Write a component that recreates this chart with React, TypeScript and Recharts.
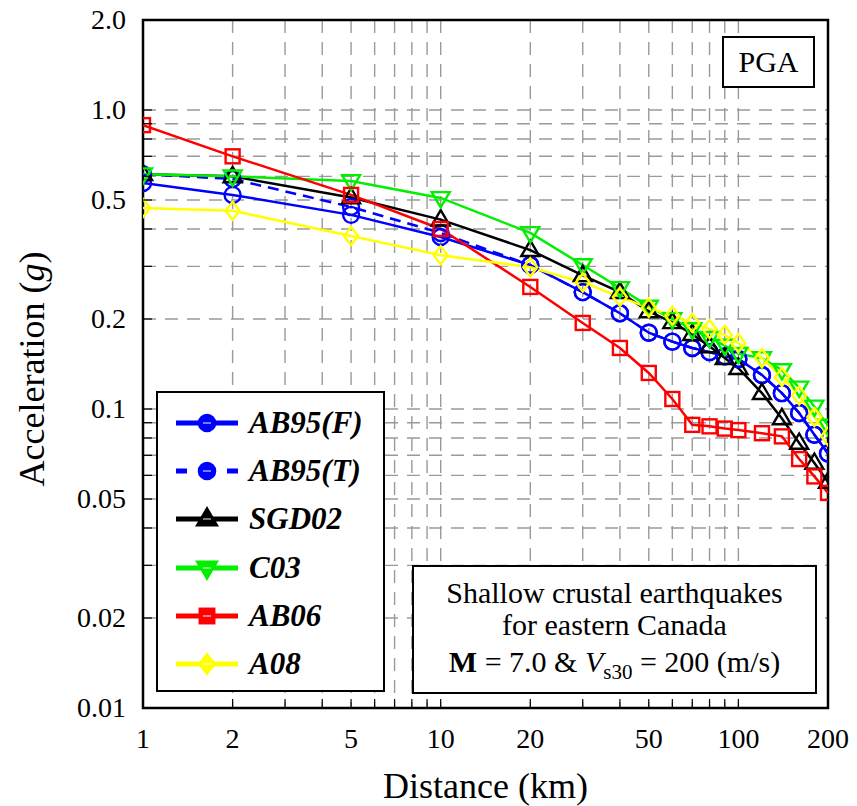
import React from 'react';
import { LineChart, Line, XAxis, YAxis, CartesianGrid, ReferenceArea } from 'recharts';

// ---------- data ----------
const distances = [1, 2, 5, 10, 20, 30, 40, 50, 60, 70, 80, 90, 100, 120, 140, 160, 180, 200];
const ab95F = [0.57, 0.52, 0.446, 0.376, 0.303, 0.246, 0.209, 0.18, 0.168, 0.16, 0.155, 0.15, 0.147, 0.13, 0.113, 0.097, 0.082, 0.071];
const ab95T = [0.61, 0.588, 0.474, 0.388, 0.303, 0.246, 0.209, 0.18, 0.168, 0.16, 0.155, 0.15, 0.147, 0.13, 0.113, 0.097, 0.082, 0.071];
const sgd02 = [0.61, 0.6, 0.51, 0.43, 0.34, 0.28, 0.246, 0.212, 0.195, 0.178, 0.162, 0.148, 0.137, 0.113, 0.093, 0.077, 0.066, 0.057];
const c03 = [0.61, 0.6, 0.579, 0.508, 0.388, 0.303, 0.254, 0.22, 0.2, 0.185, 0.173, 0.163, 0.153, 0.148, 0.135, 0.118, 0.102, 0.088];
const ab06 = [0.89, 0.7, 0.52, 0.4, 0.256, 0.194, 0.16, 0.132, 0.108, 0.0885, 0.0875, 0.086, 0.085, 0.083, 0.081, 0.068, 0.0595, 0.0524];
const a08 = [0.47, 0.46, 0.379, 0.327, 0.298, 0.265, 0.237, 0.218, 0.205, 0.194, 0.185, 0.177, 0.166, 0.148, 0.128, 0.111, 0.094, 0.081];

const xTicks = [1, 2, 3, 4, 5, 6, 7, 8, 9, 10, 20, 30, 40, 50, 60, 70, 80, 90, 100, 200];
const xMajor = [1, 2, 5, 10, 20, 50, 100, 200];
const xMajorLabels = ['1', '2', '5', '10', '20', '50', '100', '200'];
const yTicks = [0.01, 0.02, 0.03, 0.04, 0.05, 0.06, 0.07, 0.08, 0.09, 0.1, 0.2, 0.3, 0.4, 0.5, 0.6, 0.7, 0.8, 0.9, 1, 2];
const yMajor = [0.01, 0.02, 0.05, 0.1, 0.2, 0.5, 1, 2];
const yMajorLabels = ['0.01', '0.02', '0.05', '0.1', '0.2', '0.5', '1.0', '2.0'];

const seriesNames = ['AB95(F)', 'AB95(T)', 'SGD02', 'C03', 'AB06', 'A08'];
const seriesKeys = ['ab95F', 'ab95T', 'sgd02', 'c03', 'ab06', 'a08'];
const seriesValues = [ab95F, ab95T, sgd02, c03, ab06, a08];
const seriesColors = ['#0000ff', '#0000ff', '#000000', '#00f000', '#ff0000', '#ffff00'];
const seriesShapes = ['circle', 'circle', 'triUp', 'triDown', 'square', 'diamond'];
const seriesDashed = [false, true, false, false, false, false];

const annotationLines = ['Shallow crustal earthquakes', 'for eastern Canada'];
const panelTitle = 'PGA';

const data = distances.map((d, i) => {
  const row: any = { d };
  seriesKeys.forEach((k, j) => {
    row[k] = seriesValues[j][i];
  });
  return row;
});

const FONT = "'Liberation Serif', 'Times New Roman', serif";

// ---------- markers ----------
function Marker({ shape, color, x, y, sw, fill, scale = 1 }: any) {
  const common = { stroke: color, strokeWidth: sw, fill: fill || 'none' };
  if (shape === 'circle') return <circle cx={x} cy={y} r={8 * scale} {...common} />;
  if (shape === 'square') {
    const s = 7 * scale;
    return <rect x={x - s} y={y - s} width={2 * s} height={2 * s} {...common} />;
  }
  if (shape === 'triUp') {
    const s = 9 * scale;
    return <polygon points={`${x},${y - s * 1.05} ${x - s},${y + s * 0.65} ${x + s},${y + s * 0.65}`} {...common} />;
  }
  if (shape === 'triDown') {
    const s = 9 * scale;
    return <polygon points={`${x},${y + s * 1.05} ${x - s},${y - s * 0.65} ${x + s},${y - s * 0.65}`} {...common} />;
  }
  const h = 9 * scale;
  const w = 7 * scale;
  return <polygon points={`${x},${y - h} ${x + w},${y} ${x},${y + h} ${x - w},${y}`} {...common} />;
}

const makeDot = (shape: string, color: string) => (props: any) => {
  const { cx, cy, index } = props;
  if (cx == null || cy == null) return <g key={`e${index}`} />;
  return (
    <g key={`m${index}`}>
      <Marker shape={shape} color={color} x={cx} y={cy} sw={2.4} />
    </g>
  );
};

// ---------- ticks ----------
const XTick = (props: any) => {
  const { x, y, payload } = props;
  const idx = xMajor.indexOf(payload.value);
  return (
    <g>
      <line x1={x} y1={y} x2={x} y2={y - 9} stroke="#000" strokeWidth={1.2} />
      {idx >= 0 && (
        <text x={x} y={y + 40} textAnchor="middle" fontSize={28} fontFamily={FONT} fill="#000">
          {xMajorLabels[idx]}
        </text>
      )}
    </g>
  );
};

const YTick = (props: any) => {
  const { x, y, payload } = props;
  const idx = yMajor.indexOf(payload.value);
  return (
    <g>
      <line x1={x} y1={y} x2={x + 9} y2={y} stroke="#000" strokeWidth={1.2} />
      {idx >= 0 && (
        <text x={x - 17} y={y + 9} textAnchor="end" fontSize={28} fontFamily={FONT} fill="#000">
          {yMajorLabels[idx]}
        </text>
      )}
    </g>
  );
};

const YLabel = (p: any) => {
  const vb = p.viewBox;
  const cx = vb.x + 32;
  const cy = vb.y + vb.height / 2 + 5;
  return (
    <text
      x={cx}
      y={cy}
      transform={`rotate(-90, ${cx}, ${cy})`}
      textAnchor="middle"
      dominantBaseline="central"
      fontSize={36}
      fontFamily={FONT}
      fill="#000"
    >
      Acceleration (<tspan fontStyle="italic">g</tspan>)
    </text>
  );
};

const XLabel = (p: any) => {
  const vb = p.viewBox;
  return (
    <text
      x={vb.x + vb.width / 2}
      y={vb.y + 78}
      textAnchor="middle"
      dominantBaseline="central"
      fontSize={36}
      fontFamily={FONT}
      fill="#000"
    >
      Distance (km)
    </text>
  );
};

// ---------- legend ----------
function LegendBox() {
  return (
    <div
      style={{
        position: 'absolute',
        left: 156,
        top: 391,
        width: 229,
        height: 301,
        boxSizing: 'border-box',
        border: '2.5px solid #000',
        background: '#fff',
      }}
    >
      {seriesNames.map((name, i) => {
        const cy = 30 + i * 48.2;
        const color = seriesColors[i];
        return (
          <div key={name} style={{ position: 'absolute', left: 0, top: cy - 20, height: 40, width: 226 }}>
            <svg width={90} height={40} style={{ position: 'absolute', left: 0, top: 0 }}>
              {seriesDashed[i] ? (
                <g>
                  <line x1={18} y1={20} x2={29} y2={20} stroke={color} strokeWidth={5} />
                  <line x1={69} y1={20} x2={80} y2={20} stroke={color} strokeWidth={5} />
                </g>
              ) : (
                <line x1={18} y1={20} x2={80} y2={20} stroke={color} strokeWidth={5} />
              )}
              <Marker shape={seriesShapes[i]} color={color} x={49} y={20} sw={5} scale={0.85} fill={color} />
              <line x1={45} y1={20} x2={53} y2={20} stroke="#fff" strokeWidth={1.2} opacity={0.8} />
            </svg>
            <div
              style={{
                position: 'absolute',
                left: 91,
                top: 0,
                height: 40,
                lineHeight: '40px',
                fontFamily: FONT,
                fontSize: 31,
                fontWeight: 'bold',
                fontStyle: 'italic',
                color: '#000',
                whiteSpace: 'nowrap',
              }}
            >
              {name}
            </div>
          </div>
        );
      })}
    </div>
  );
}

function AnnotationBox() {
  return (
    <div
      style={{
        position: 'absolute',
        left: 412,
        top: 565,
        width: 405,
        height: 129,
        boxSizing: 'border-box',
        border: '2.5px solid #000',
        background: '#fff',
        fontFamily: FONT,
        fontSize: 30,
        color: '#000',
        textAlign: 'center',
      }}
    >
      <div style={{ position: 'absolute', left: 0, right: 0, top: 9, height: 34, lineHeight: '34px' }}>{annotationLines[0]}</div>
      <div style={{ position: 'absolute', left: 0, right: 0, top: 41, height: 34, lineHeight: '34px' }}>{annotationLines[1]}</div>
      <div style={{ position: 'absolute', left: 0, right: 0, top: 78, height: 34, lineHeight: '34px', whiteSpace: 'nowrap' }}>
        <span style={{ fontWeight: 'bold' }}>M</span> = 7.0 &amp; <span style={{ fontStyle: 'italic' }}>V</span>
        <span style={{ fontSize: 21, position: 'relative', top: 7 }}>s30</span> = 200 (m/s)
      </div>
    </div>
  );
}

function PanelBox() {
  return (
    <div
      style={{
        position: 'absolute',
        left: 722,
        top: 36,
        width: 93,
        height: 52,
        boxSizing: 'border-box',
        border: '2.5px solid #000',
        background: '#fff',
        fontFamily: FONT,
        fontSize: 30,
        color: '#000',
        textAlign: 'center',
        lineHeight: '47px',
      }}
    >
      {panelTitle}
    </div>
  );
}

export default function App() {
  return (
    <div style={{ position: 'absolute', left: 0, top: 0, width: 857, height: 806, fontFamily: FONT, background: '#fff' }}>
      <LineChart width={857} height={806} data={data} margin={{ top: 20, right: 29, bottom: 0, left: 0 }}>
        <CartesianGrid stroke="#9a9a9a" strokeDasharray="13 9" strokeWidth={1.4} />
        <XAxis
          dataKey="d"
          type="number"
          scale="log"
          domain={[1, 200]}
          ticks={xTicks}
          interval={0}
          allowDataOverflow
          height={98}
          axisLine={false}
          tickLine={false}
          tickSize={0}
          tickMargin={0}
          tick={<XTick />}
          label={{ content: <XLabel /> }}
        />
        <YAxis
          type="number"
          scale="log"
          domain={[0.01, 2]}
          ticks={yTicks}
          interval={0}
          allowDataOverflow
          width={143}
          axisLine={false}
          tickLine={false}
          tickSize={0}
          tickMargin={0}
          tick={<YTick />}
          label={{ content: <YLabel /> }}
        />
        {seriesKeys.map((k, i) => (
          <Line
            key={k}
            type="linear"
            dataKey={k}
            name={seriesNames[i]}
            stroke={seriesColors[i]}
            strokeWidth={2.5}
            strokeDasharray={seriesDashed[i] ? '11 7' : undefined}
            dot={makeDot(seriesShapes[i], seriesColors[i])}
            activeDot={false}
            isAnimationActive={false}
          />
        ))}
        <ReferenceArea x1={1} x2={200} y1={0.01} y2={2} fill="none" fillOpacity={0} stroke="#000" strokeWidth={2.5} ifOverflow="visible" />
      </LineChart>
      <LegendBox />
      <AnnotationBox />
      <PanelBox />
    </div>
  );
}
